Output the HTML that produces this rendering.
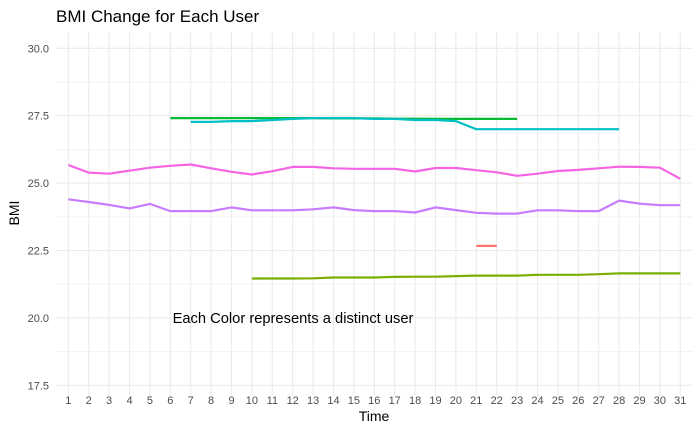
<!DOCTYPE html>
<html><head><meta charset="utf-8"><style>
body{margin:0;background:#fff}
svg{display:block;font-family:"Liberation Sans",sans-serif}
</style></head><body>
<svg id="chart" width="700" height="432"></svg>
<script>
const days = Array.from({length:31},(_,i)=>i+1);
const yTicks = [17.5,20.0,22.5,25.0,27.5,30.0];
const pinkStart = 1;
const pinkVals = [25.67,25.39,25.35,25.46,25.57,25.64,25.69,25.55,25.42,25.32,25.44,25.6,25.6,25.55,25.53,25.53,25.53,25.43,25.56,25.56,25.48,25.4,25.27,25.35,25.45,25.49,25.55,25.61,25.6,25.57,25.16];
const purpleStart = 1;
const purpleVals = [24.4,24.3,24.19,24.06,24.23,23.96,23.96,23.96,24.1,23.99,23.99,23.99,24.03,24.1,24.0,23.96,23.96,23.91,24.1,24.0,23.9,23.87,23.87,23.99,23.99,23.96,23.96,24.35,24.24,24.18,24.18];
const greenStart = 6;
const greenVals = [27.41,27.41,27.41,27.41,27.41,27.41,27.41,27.41,27.4,27.4,27.4,27.39,27.39,27.38,27.38,27.38,27.38,27.38];
const cyanStart = 7;
const cyanVals = [27.27,27.27,27.3,27.3,27.34,27.38,27.41,27.41,27.41,27.38,27.38,27.34,27.34,27.3,27.0,27.0,27.0,27.0,27.0,27.0,27.0,27.0];
const redStart = 21;
const redVals = [22.67,22.67];
const oliveStart = 10;
const oliveVals = [21.46,21.46,21.46,21.47,21.5,21.5,21.5,21.52,21.53,21.53,21.55,21.57,21.57,21.57,21.6,21.6,21.6,21.62,21.65,21.65,21.65,21.65];

const NS="http://www.w3.org/2000/svg";
const svg=document.getElementById('chart');
const x=d=>68.3+(d-1)*20.4;
const y=v=>115.7+(27.5-v)*26.96;
function mk(t,a){const e=document.createElementNS(NS,t);for(const k in a)e.setAttribute(k,a[k]);svg.appendChild(e);return e;}
for(let i=0;i<yTicks.length;i++){
  const g=mk('line',{x1:56,x2:692,y1:y(yTicks[i]),y2:y(yTicks[i]),stroke:'#ebebeb','stroke-width':1.1});
  
  
  if(i<yTicks.length-1){const m=(yTicks[i]+yTicks[i+1])/2;
    const g2=mk('line',{x1:56,x2:692,y1:y(m),y2:y(m),stroke:'#f0f0f0','stroke-width':0.8});
    
    }
  const t=mk('text',{x:49,y:y(yTicks[i])+4,'text-anchor':'end','font-size':11,fill:'#4d4d4d'});
  t.textContent=yTicks[i].toFixed(1);
  
  
}
for(const d of days){
  const g=mk('line',{x1:x(d),x2:x(d),y1:32,y2:396,stroke:'#ebebeb','stroke-width':1.1});
  
  
  const t=mk('text',{x:x(d),y:404,'text-anchor':'middle','font-size':11,fill:'#4d4d4d'});
  t.textContent=d;
  
  
}
function series(start,vals,color,name){
  const pts=vals.map((v,i)=>x(start+i).toFixed(1)+','+y(v).toFixed(1)).join(' ');
  const p=mk('polyline',{points:pts,fill:'none',stroke:color,'stroke-width':2.2,'stroke-linejoin':'round'});
  
  
}
series(oliveStart,oliveVals,'#7CAE00','user-olive-line');
series(redStart,redVals,'#F8766D','user-red-line');
series(greenStart,greenVals,'#00BA38','user-green-line');
series(cyanStart,cyanVals,'#00BFC4','user-cyan-line');
series(purpleStart,purpleVals,'#C77CFF','user-purple-line');
series(pinkStart,pinkVals,'#F564E3','user-pink-line');
</script>
<script>
(function(){
const svg=document.getElementById('chart');const NS="http://www.w3.org/2000/svg";
function t(txt,a,name){const e=document.createElementNS(NS,'text');for(const k in a)e.setAttribute(k,a[k]);e.textContent=txt;svg.appendChild(e);

}
t('BMI Change for Each User',{x:56,y:22,'font-size':17,fill:'#000'},'chart-title');
t('Time',{x:374,y:421,'text-anchor':'middle','font-size':14,fill:'#000'},'x-axis-title');
t('BMI',{x:0,y:0,transform:'translate(19,213) rotate(-90)','text-anchor':'middle','font-size':14,fill:'#000'},'y-axis-title');
t('Each Color represents a distinct user',{x:293,y:323,'text-anchor':'middle','font-size':14.7,fill:'#000'},'annotation');
})();
</script>
</body></html>
